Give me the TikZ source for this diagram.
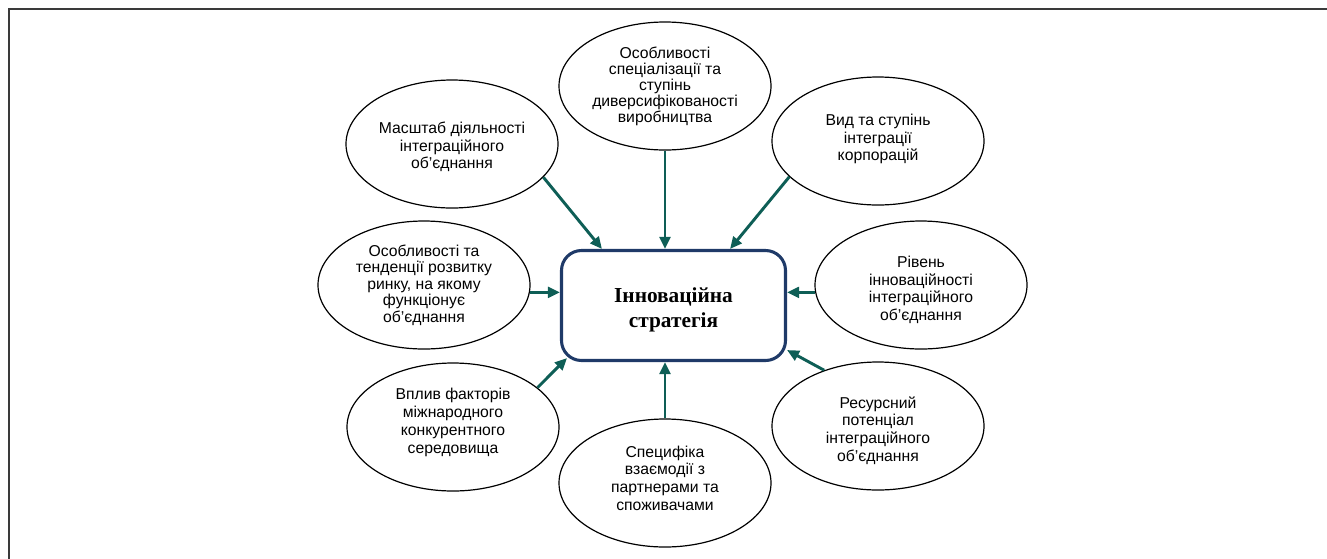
\documentclass[tikz,border=0pt]{standalone}
\usepackage{fontspec}
\setmainfont{Liberation Sans}
\newfontfamily\serifb{Liberation Serif}
\usetikzlibrary{shapes.geometric,arrows.meta,calc}
\definecolor{arr}{HTML}{0E5E56}
\definecolor{boxc}{HTML}{1F3A68}
\definecolor{framec}{HTML}{3A3A3A}
\begin{document}
\begin{tikzpicture}[x=0.75pt,y=-0.75pt,
  ell/.style={ellipse,draw=black,line width=0.9pt,minimum width=159pt,minimum height=96pt,inner sep=0pt},
  txt/.style={inner sep=0pt,align=center,font=\fontsize{11.8}{13.3}\selectfont},
  arrow/.style={draw=arr,line width=2.2pt,-{Triangle[length=9pt,width=8pt]}},
  centre/.style={draw=boxc,line width=2.3pt,rounded corners=15pt,minimum width=168pt,minimum height=82.5pt,inner sep=0pt},
  ctxt/.style={inner sep=0pt,align=center,font=\serifb\bfseries\fontsize{16}{18.75}\selectfont}]
\useasboundingbox (0,0) rectangle (1327,558);
\draw[framec,line width=1.8pt] (9,580) -- (9,9) -- (1350,9);

\node[centre] (box) at (673.5,305.5) {};
\node[ctxt,yshift=-3pt] (boxt) at (box) {Інноваційна\\стратегія};

\node[ell] (m1) at (452,144) {};
\node[txt,yshift=-2.2pt] (t1) at (m1) {Масштаб діяльності\\інтеграційного\\об’єднання};
\node[ell] (m2) at (665,86) {};
\node[txt,font=\fontsize{11.8}{12}\selectfont] (t2) at (m2) {Особливості\\спеціалізації та\\ступінь\\диверсифікованості\\виробництва};
\node[ell] (m3) at (878,141) {};
\node[txt,yshift=1.5pt] (t3) at (m3) {Вид та ступінь\\інтеграції\\корпорацій};
\node[ell] (m4) at (424,285) {};
\node[txt,font=\fontsize{11.8}{12.3}\selectfont] (t4) at (m4) {Особливості та\\тенденції розвитку\\ринку, на якому\\функціонує\\об’єднання};
\node[ell] (m5) at (921,285) {};
\node[txt,yshift=-3.7pt] (t5) at (m5) {Рівень\\інноваційності\\інтеграційного\\об’єднання};
\node[ell] (m6) at (453,427) {};
\node[txt,yshift=3.5pt] (t6) at (m6) {Вплив факторів\\міжнародного\\конкурентного\\середовища};
\node[ell] (m7) at (665,483) {};
\node[txt,yshift=3.7pt] (t7) at (m7) {Специфіка\\взаємодії з\\партнерами та\\споживачами};
\node[ell] (m8) at (878,426) {};
\node[txt,yshift=-3.4pt] (t8) at (m8) {Ресурсний\\потенціал\\інтеграційного\\об’єднання};

\coordinate (s4) at (m4.-4);
\coordinate (s5) at (m5.184);
\draw[arrow] (m1.-20) -- ($(box.north west)+(42,0)$);
\draw[arrow] (m2.south) -- (m2.south |- box.north);
\draw[arrow] (m3.202) -- ($(box.north east)+(-57,0)$);
\draw[arrow] (s4) -- (s4 -| box.west);
\draw[arrow] (s5) -- (s5 -| box.east);
\draw[arrow] (m6.25) -- ($(box.south west)+(7,-4)$);
\draw[arrow] (m7.north) -- (m7.north |- box.south);
\draw[arrow] (m8.134) -- ($(box.south east)+(0,-12)$);
\end{tikzpicture}
\end{document}
